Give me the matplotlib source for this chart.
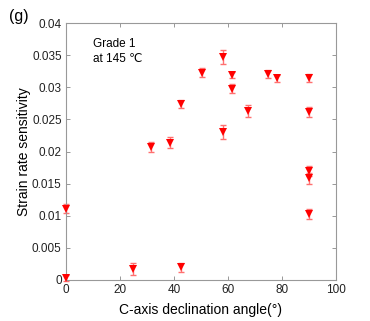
import matplotlib
matplotlib.use("Agg")
import matplotlib.pyplot as plt

plt.rcParams['font.family'] = ['Liberation Sans', 'DejaVu Sans']

# C-axis declination angle (deg), strain rate sensitivity, error
angle = [0, 0, 25, 42.5, 42.5, 31.5, 38.5, 50.5, 58, 61.5, 61.5, 58, 67.5,
         74.7, 78.3, 90, 90, 90, 90, 90]
srs = [0.0111, 0.0003, 0.0017, 0.0020, 0.0274, 0.0207, 0.0214, 0.0323, 0.0347,
       0.0319, 0.0298, 0.0231, 0.0263, 0.0321, 0.0314, 0.0314, 0.0262, 0.0170,
       0.0158, 0.0103]
err = [0.0007, 0.0005, 0.0009, 0.0007, 0.0006, 0.0008, 0.0008, 0.0007, 0.0011,
       0.0005, 0.0007, 0.0011, 0.0009, 0.0006, 0.0005, 0.0006, 0.0008, 0.0008,
       0.0008, 0.0008]

fig = plt.figure(figsize=(3.7, 3.21), dpi=100)
ax = fig.add_axes([0.178, 0.128, 0.73, 0.8])

ax.errorbar(angle, srs, yerr=err, fmt='none', ecolor='#ff7070', elinewidth=1,
            capsize=2, capthick=1, clip_on=False)
ax.plot(angle, srs, 'v', color='red', markersize=5.5, markeredgewidth=0,
        clip_on=False, zorder=3)

ax.set_xlim(0, 100)
ax.set_ylim(0, 0.04)
ax.set_xticks([0, 20, 40, 60, 80, 100])
ax.set_yticks([0, 0.005, 0.01, 0.015, 0.02, 0.025, 0.03, 0.035, 0.04])
ax.set_yticklabels(['0', '0.005', '0.01', '0.015', '0.02', '0.025', '0.03',
                    '0.035', '0.04'])
ax.tick_params(direction='in', top=True, right=True, length=3, width=0.6,
               color='#888888', labelsize=8.5, labelcolor='#222222', pad=3)
for s in ax.spines.values():
    s.set_color('#999999')
    s.set_linewidth(0.8)

ax.set_xlabel('C-axis declination angle(°)', fontsize=10, labelpad=5)
ax.set_ylabel('Strain rate sensitivity', fontsize=10, labelpad=1)

ax.text(10, 0.0377, 'Grade 1\nat 145 ℃', fontsize=8.5, va='top',
        linespacing=1.4)
fig.text(0.025, 0.935, '(g)', fontsize=11.5)

fig.savefig('out.png', dpi=100)
